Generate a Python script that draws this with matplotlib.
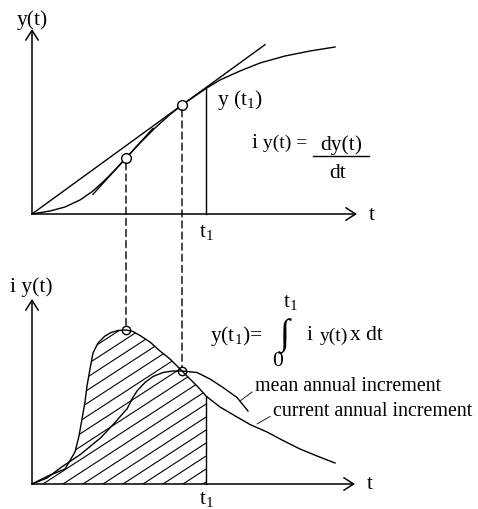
import matplotlib
matplotlib.use("Agg")
import matplotlib.pyplot as plt
from matplotlib.patches import ConnectionPatch
import numpy as np

plt.rcParams['font.family'] = ['Liberation Serif', 'DejaVu Serif']
plt.rcParams['mathtext.fontset'] = 'custom'
plt.rcParams['mathtext.rm'] = 'Liberation Serif'
plt.rcParams['mathtext.default'] = 'regular'

# growth curve y(t) (top panel)
top_t = [0, 18, 33, 48, 61, 73, 83, 94, 108, 123, 138, 150, 163, 174, 188, 208, 228, 253, 278, 303]
top_y = [0, 3, 7, 14, 23, 34, 44, 56, 71, 86, 99.5, 109, 118, 125.5, 134, 143, 151, 158, 163, 167]

# current annual increment (bottom panel)
cur_t = [0, 16, 33, 43, 47, 50, 53, 55, 58, 61, 66, 73, 79, 86, 94, 101, 108, 118, 128, 138, 150,
         158, 166, 174, 188, 205, 218, 235, 251, 268, 285, 303]
cur_i = [0, 8, 15, 32, 48, 65, 82, 98, 115, 131, 141, 148, 151.5, 153.5, 154, 152.5, 148.5, 142, 133,
         125, 113, 105, 97, 88, 77, 67, 59.5, 52, 43.5, 35, 28, 21]

# mean annual increment (bottom panel)
mean_t = [0, 15, 29, 49, 69, 83, 93, 95, 100, 105, 113, 121, 131, 141, 150, 165, 178, 191, 205, 216]
mean_i = [0, 6, 16.5, 30, 46.5, 61.5, 73, 75, 85, 93, 101.5, 107.5, 111.5, 113, 113, 111.5, 105,
          96.5, 86.5, 73]

t_a = 94      # inflection of y(t) / max of current increment
t_b = 150     # tangent from origin / max of mean increment
t_1 = 174
slope_a = 1.1

fs = 15.5
lw_axis = 1.1
lw_curve = 1.0
dash = (0, (5, 3))

fig = plt.figure(figsize=(4.78, 5.10), dpi=100)
ax1 = fig.add_axes([0, 260 / 510, 1, 250 / 510])
ax2 = fig.add_axes([0, 0, 1, 260 / 510])
ax1.set_xlim(-32, 446)
ax1.set_ylim(-35, 215)
ax2.set_xlim(-32, 446)
ax2.set_ylim(-25, 235)
for ax in (ax1, ax2):
    ax.axis('off')

arrow = dict(arrowstyle='->,head_length=0.7,head_width=0.45', lw=lw_axis,
             color='black', shrinkA=0, shrinkB=0)


def axes_arrows(ax, ytop, xend):
    ax.annotate('', xy=(0, ytop), xytext=(0, 0), arrowprops=arrow)
    ax.annotate('', xy=(xend, 0), xytext=(0, 0), arrowprops=arrow)
    ax.text(xend + 15, 0, 't', fontsize=fs, ha='center', va='center')


# ---- top panel ----
axes_arrows(ax1, 185, 325)
ax1.text(0, 195, 'y(t)', fontsize=fs, ha='center', va='center')
ax1.plot(top_t, top_y, color='black', lw=lw_curve)

ya = top_y[top_t.index(t_a)]
yb = top_y[top_t.index(t_b)]
y1 = top_y[top_t.index(t_1)]

# tangent through origin
k = yb / t_b
ax1.plot([0, 233], [0, 233 * k], color='black', lw=lw_curve)
# tangent at inflection point
ax1.plot([t_a - 33, t_a + 27], [ya - 33 * slope_a, ya + 27 * slope_a], color='black', lw=lw_curve)
ax1.plot([t_1, t_1], [0, y1], color='black', lw=lw_curve)
ax1.plot([t_a, t_b], [ya, yb], 'o', ms=7, mfc='white', mec='black', mew=1.0)

ax1.text(t_1, -18, 't$_1$', fontsize=fs, ha='center', va='center')
ax1.text(185, 115, 'y (t$_1$)', fontsize=fs, ha='left', va='center')
ax1.text(220, 72, 'i', fontsize=fs, ha='left', va='center')
ax1.text(231, 72, 'y(t) =', fontsize=14, ha='left', va='center')
ax1.text(309, 70, 'dy(t)', fontsize=fs, ha='center', va='center')
ax1.plot([281, 337], [58, 58], color='black', lw=1.0)
ax1.text(306, 42, 'dt', fontsize=fs, ha='center', va='center')

# ---- bottom panel ----
axes_arrows(ax2, 185, 323)
ax2.text(-1, 198, 'i y(t)', fontsize=fs, ha='center', va='center')

n1 = cur_t.index(t_1) + 1
poly = ax2.fill_between(cur_t[:n1], cur_i[:n1], 0, facecolor='none', edgecolor='none')
clip = poly.get_paths()[0]
for c in np.arange(11 - 20 * 15, t_1, 20):
    ln, = ax2.plot([c, c + 400], [0, 0.65 * 400], color='black', lw=0.8)
    ln.set_clip_path(clip, transform=ax2.transData)

ax2.plot(cur_t, cur_i, color='black', lw=lw_curve)
ax2.plot(mean_t, mean_i, color='black', lw=lw_curve)
ia = cur_i[cur_t.index(t_a)]
ib = cur_i[cur_t.index(t_b)]
i1 = cur_i[cur_t.index(t_1)]
ax2.plot([t_1, t_1], [0, i1], color='black', lw=lw_curve)
ax2.plot([t_a, t_b], [ia, ib], 'o', ms=6, mfc='none', mec='black', mew=1.0)

ax2.text(t_1, -15, 't$_1$', fontsize=fs, ha='center', va='center')
ax2.text(178, 149, 'y(t$_1$)=', fontsize=fs, ha='left', va='center')
ax2.text(253, 149, '\u222b', fontsize=26, ha='center', va='center')
ax2.text(258, 182, 't$_1$', fontsize=fs, ha='center', va='center')
ax2.text(246, 123, '0', fontsize=fs, ha='center', va='center')
ax2.text(275, 149, 'i', fontsize=fs, ha='left', va='center')
ax2.text(288, 149, 'y(t)', fontsize=14, ha='left', va='center')
ax2.text(318, 149, 'x dt', fontsize=fs, ha='left', va='center')

ax2.annotate('mean annual increment', xy=(208, 83), xytext=(223, 98),
             fontsize=14.4, ha='left', va='center',
             arrowprops=dict(arrowstyle='-', lw=0.6, color='black',
                             shrinkA=0, shrinkB=0, relpos=(0, 0.3)))
ax2.annotate('current annual increment', xy=(225, 60), xytext=(241, 73),
             fontsize=14.4, ha='left', va='center',
             arrowprops=dict(arrowstyle='-', lw=0.6, color='black',
                             shrinkA=0, shrinkB=0, relpos=(0, 0.3)))

# dashed links between panels
for ta, y_top, y_bot in [(t_a, ya, ia), (t_b, yb, ib)]:
    con = ConnectionPatch(xyA=(ta, y_top), coordsA=ax1.transData,
                          xyB=(ta, y_bot), coordsB=ax2.transData,
                          color='black', lw=1.0, linestyle=dash,
                          shrinkA=3.5, shrinkB=3)
    fig.add_artist(con)

fig.savefig('out.png', dpi=100)
